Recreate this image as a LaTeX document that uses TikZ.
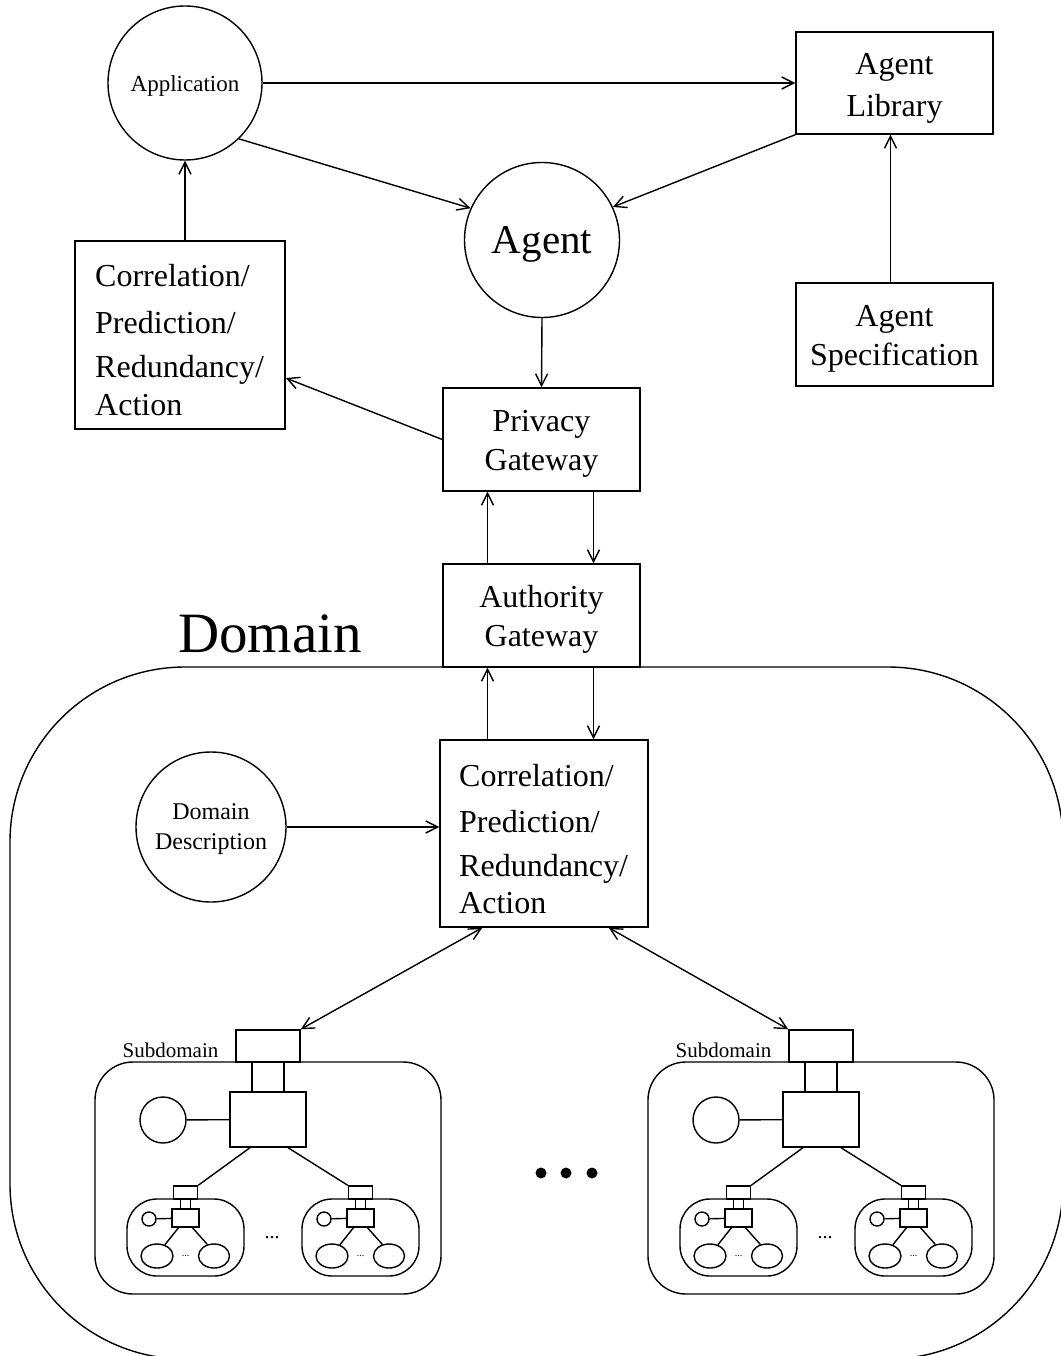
\documentclass[tikz,border=0pt]{standalone}
\usepackage{fontspec}
\setmainfont{Liberation Serif}
\usetikzlibrary{arrows.meta,shapes.geometric}
\tikzset{
 ln/.style={line width=1.4pt},
 arr/.style={ln,-{Straight Barb[length=12pt,width=12pt]}},
 darr/.style={ln,{Straight Barb[length=12pt,width=12pt]}-{Straight Barb[length=12pt,width=12pt]}},
 boxtxt/.style={inner sep=0pt,align=center,font=\fontsize{32}{39}\selectfont},
 circ/.style={draw,ln,circle,inner sep=0pt},
 ctxt/.style={inner sep=0pt,align=center},
 txt/.style={inner sep=0pt,font=\fontsize{32}{40}\selectfont,anchor=base west},
 plain/.style={draw,ln,inner sep=0pt},
}
\newcommand\smallgrp[2]{%
\begin{scope}[xshift=#2]
\node[plain,minimum width=24pt,minimum height=13pt] (#1gw) at (185.5,1192.5) {};
\node[plain,rounded corners=30pt,minimum width=117pt,minimum height=77pt] (#1box) at (185.5,1237.5) {};
\node[plain,minimum width=27pt,minimum height=18pt] (#1core) at (185.5,1218) {};
\node[plain,circle,minimum size=14pt] (#1circ) at (149,1219) {};
\node[plain,ellipse,minimum width=32pt,minimum height=24pt] (#1ea) at (157,1256) {};
\node[plain,ellipse,minimum width=31pt,minimum height=24pt] (#1eb) at (214,1256) {};
\node[inner sep=0pt,font=\fontsize{10}{12}\selectfont] (#1dots) at (185.5,1256) {...};
\draw[ln] ([xshift=-5pt]#1gw.south) -- ([xshift=-5pt]#1core.north);
\draw[ln] ([xshift=5pt]#1gw.south) -- ([xshift=5pt]#1core.north);
\draw[ln] (#1circ) -- (#1core);
\draw[ln] ([xshift=-7pt]#1core.south) -- (#1ea.55);
\draw[ln] ([xshift=7pt]#1core.south) -- (#1eb.120);
\end{scope}}
\newcommand\subdom[2]{%
\begin{scope}[xshift=#2]
\node[plain,minimum width=64pt,minimum height=32pt] (#1gw) at (268,1046) {};
\node[plain,rounded corners=38pt,minimum width=346pt,minimum height=232pt] (#1box) at (268,1178) {};
\node[inner sep=0pt,font=\fontsize{21}{24}\selectfont] (#1lbl) at (170.5,1050) {Subdomain};
\node[plain,minimum width=76pt,minimum height=55pt] (#1core) at (268,1119.5) {};
\node[plain,circle,minimum size=46pt] (#1circ) at (163,1120) {};
\draw[ln] ([xshift=-16pt]#1gw.south) -- ([xshift=-16pt]#1core.north);
\draw[ln] ([xshift=16pt]#1gw.south) -- ([xshift=16pt]#1core.north);
\draw[ln] (#1circ) -- (#1core);
\smallgrp{#1a}{0pt}
\smallgrp{#1b}{175pt}
\draw[ln] ([xshift=-18pt]#1core.south) -- (#1agw.north east);
\draw[ln] ([xshift=20pt]#1core.south) -- (#1bgw.north west);
\node[inner sep=0pt,font=\fontsize{20}{24}\selectfont] (#1dots) at (272,1238) {...};
\end{scope}}
\begin{document}
\begin{tikzpicture}[x=1pt,y=-1pt]
\useasboundingbox (0,0) rectangle (1060,1356);
% domain container
\node[plain,rounded corners=175pt,minimum width=1053pt,minimum height=692pt] (domain) at (536.5,1013) {};
\node[inner sep=0pt,font=\fontsize{57}{60}\selectfont] (dlabel) at (270,634) {Domain};
% upper nodes
\node[circ,minimum size=154pt] (app) at (185,83) {};
\node[ctxt,font=\fontsize{23}{28}\selectfont] (appT) at (185,86) {Application};
\node[plain,minimum width=197pt,minimum height=102pt] (alib) at (894.5,83) {};
\node[boxtxt,font=\fontsize{32}{42}\selectfont] (alibT) at (894.5,88) {Agent\\Library};
\node[circ,minimum size=155pt] (agent) at (542,240) {};
\node[ctxt,font=\fontsize{41}{48}\selectfont] (agentT) at (542,244) {Agent};
\node[plain,minimum width=197pt,minimum height=103pt] (aspec) at (894.5,334.5) {};
\node[boxtxt] (aspecT) at (894.5,338.5) {Agent\\Specification};
\node[plain,minimum width=210pt,minimum height=188pt] (lcpra) at (180,335) {};
\node[txt] (l1) at (95,286) {Correlation/};
\node[txt] (l2) at (95,333) {Prediction/};
\node[txt] (l3) at (95,377) {Redundancy/};
\node[txt] (l4) at (95,415) {Action};
\node[plain,minimum width=197pt,minimum height=103pt] (priv) at (541.5,439.5) {};
\node[boxtxt] (privT) at (541.5,444) {Privacy\\Gateway};
\node[plain,minimum width=197pt,minimum height=103pt] (auth) at (541.5,615.5) {};
\node[boxtxt] (authT) at (541.5,619.5) {Authority\\Gateway};
% domain content
\node[plain,minimum width=208pt,minimum height=187pt] (icpra) at (544,833.5) {};
\node[txt] (i1) at (459,786) {Correlation/};
\node[txt] (i2) at (459,832) {Prediction/};
\node[txt] (i3) at (459,876) {Redundancy/};
\node[txt] (i4) at (459,913) {Action};
\node[circ,minimum size=150pt] (dd) at (211,827) {};
\node[ctxt,font=\fontsize{24}{30}\selectfont] (ddT) at (211,829) {Domain\\Description};
\subdom{sL}{0pt}
\subdom{sR}{553pt}
\fill (541,1173) circle (5.5pt);
\fill (566,1173) circle (5.5pt);
\fill (592,1173) circle (5.5pt);
% connectors
\draw[arr] (app.east) -- (alib.west);
\draw[arr] (app.-46) -- (agent.156);
\draw[arr] (alib.south west) -- (agent.25);
\draw[arr] ([xshift=-4pt]aspec.north) -- ([xshift=-4pt]alib.south);
\draw[arr] (lcpra.north -| app.south) -- (app.south);
\draw[arr] (agent.south) -- (priv.north);
\draw[arr] (priv.west) -- ([yshift=-43pt]lcpra.east);
\draw[arr] ([xshift=-54pt]auth.north) -- ([xshift=-54pt]priv.south);
\draw[arr] ([xshift=52pt]priv.south) -- ([xshift=52pt]auth.north);
\draw[arr] ([xshift=-54pt]auth.south |- icpra.north) -- ([xshift=-54pt]auth.south);
\draw[arr] ([xshift=52pt]auth.south) -- ([xshift=52pt]auth.south |- icpra.north);
\draw[arr] (dd.east) -- (dd.east -| icpra.west);
\draw[darr] ([xshift=43pt]icpra.south west) -- (sLgw.north east);
\draw[darr] ([xshift=-40pt]icpra.south east) -- (sRgw.north west);
\end{tikzpicture}
\end{document}
